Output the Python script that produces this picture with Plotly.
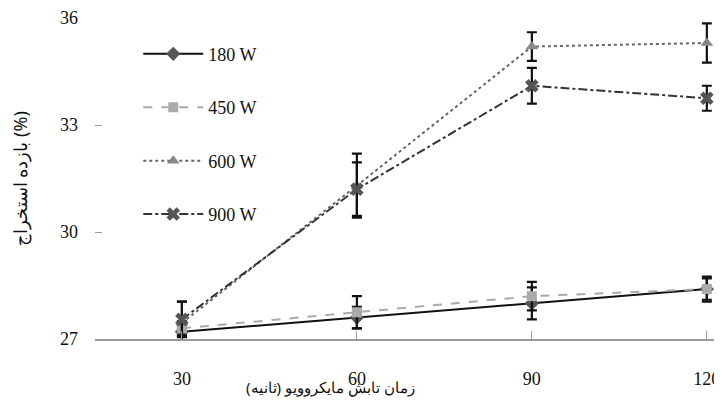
import plotly.graph_objects as go

times = [30, 60, 90, 120]
series_names = ["180 W", "450 W", "600 W", "900 W"]
y_180 = [27.2, 27.6, 28.0, 28.4]
e_180 = [0.1, 0.3, 0.45, 0.35]
y_450 = [27.3, 27.75, 28.2, 28.4]
e_450 = [0.2, 0.45, 0.4, 0.3]
y_600 = [27.45, 31.3, 35.2, 35.3]
e_600 = [0.6, 0.9, 0.4, 0.55]
y_900 = [27.55, 31.2, 34.1, 33.75]
e_900 = [0.5, 0.75, 0.5, 0.35]
y_ticks = [27, 30, 33, 36]
x_title = "زمان تابش مایکروویو (ثانیه)"
y_title = "بازده استخراج (%)"

styles = [
    dict(color="#111111", dash="solid", symbol="diamond", mcolor="#555555", msize=11),
    dict(color="#aaaaaa", dash="dash", symbol="square", mcolor="#aaaaaa", msize=10),
    dict(color="#666666", dash="dot", symbol="triangle-up", mcolor="#888888", msize=11),
    dict(color="#333333", dash="dashdot", symbol="x", mcolor="#555555", msize=12),
]
ys = [y_180, y_450, y_600, y_900]
es = [e_180, e_450, e_600, e_900]

fig = go.Figure()
for name, y, e, s in zip(series_names, ys, es, styles):
    fig.add_trace(go.Scatter(
        x=times, y=y, name=name, legendgroup=name, mode="lines+markers",
        line=dict(color=s["color"], dash=s["dash"], width=2),
        marker=dict(symbol=s["symbol"], color=s["mcolor"], size=s["msize"]),
        error_y=dict(type="data", array=e, color="#111111", thickness=2.2, width=5),
        cliponaxis=False,
    ))

# page has an 8px body margin: figure is 714x392 so it ends at the window edge
fig.update_layout(
    width=714, height=392,
    margin=dict(l=87, r=0, t=10, b=61),
    plot_bgcolor="white", paper_bgcolor="white",
    font=dict(family="Liberation Serif", size=18, color="#111111"),
    showlegend=True,
    legend=dict(x=0.069, y=0.945, xanchor="left", yanchor="top",
                bgcolor="rgba(0,0,0,0)", tracegroupgap=27,
                font=dict(size=18, family="Liberation Serif"),
                itemwidth=60),
    xaxis=dict(range=[15.1, 122.6], tickvals=times, ticks="inside", ticklen=8,
               tickcolor="#999999", showline=True, linecolor="#999999", linewidth=2,
               showgrid=False, zeroline=False, ticklabelstandoff=22, automargin=False),
    yaxis=dict(range=[27, 36], tickvals=y_ticks, ticks="inside", ticklen=7,
               tickcolor="#999999", showline=False, showgrid=False, zeroline=False,
               ticklabelstandoff=16, automargin=False),
)
fig.add_annotation(text=x_title, xref="paper", yref="paper", x=0.375, y=-0.15,
                   showarrow=False, font=dict(size=15, family="Noto Sans"), yanchor="middle")
fig.add_annotation(text=y_title, xref="paper", yref="paper", x=-0.12, y=0.50,
                   showarrow=False, textangle=-90, font=dict(size=18, family="Noto Sans"),
                   xanchor="center")
fig.write_html("out.html")
